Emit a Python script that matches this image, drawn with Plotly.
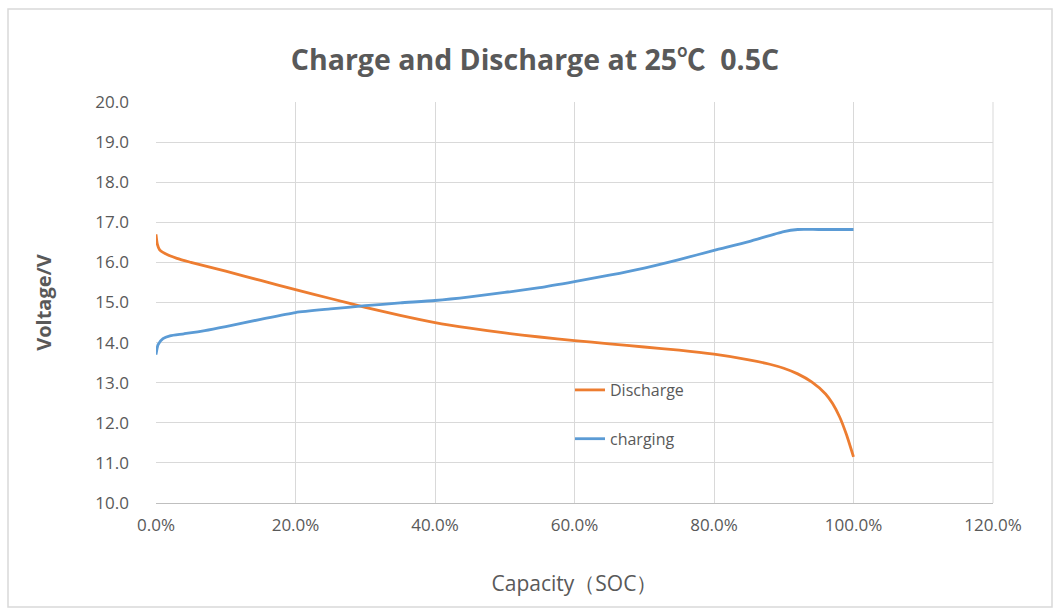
import plotly.graph_objects as go

# Capacity (SOC) as fraction
discharge_soc = [0, 0.002, 0.005, 0.01, 0.03, 0.05, 0.10, 0.15, 0.20, 0.25, 0.30, 0.35, 0.40, 0.45,
                 0.50, 0.55, 0.60, 0.65, 0.70, 0.75, 0.80, 0.85, 0.88, 0.90, 0.92, 0.94, 0.96,
                 0.97, 0.98, 0.99, 1.00]
discharge_v = [16.7, 16.45, 16.32, 16.25, 16.1, 16.0, 15.78, 15.55, 15.32, 15.1, 14.88, 14.68, 14.5,
               14.36, 14.24, 14.14, 14.05, 13.97, 13.89, 13.81, 13.71, 13.57, 13.46, 13.36, 13.22,
               13.02, 12.72, 12.48, 12.15, 11.7, 11.15]

charging_soc = [0, 0.003, 0.01, 0.02, 0.04, 0.07, 0.10, 0.15, 0.20, 0.25, 0.30, 0.35, 0.40, 0.45,
                0.50, 0.55, 0.60, 0.65, 0.70, 0.75, 0.80, 0.85, 0.90, 0.92, 0.95, 1.00]
charging_v = [13.7, 13.95, 14.1, 14.17, 14.22, 14.3, 14.4, 14.58, 14.75, 14.84, 14.92, 14.99, 15.05,
              15.14, 15.25, 15.37, 15.52, 15.68, 15.86, 16.07, 16.3, 16.52, 16.77, 16.82, 16.82, 16.82]

x_ticks = [0, 0.2, 0.4, 0.6, 0.8, 1.0, 1.2]
y_ticks = [10, 11, 12, 13, 14, 15, 16, 17, 18, 19, 20]

ORANGE = "#ED7D31"
BLUE = "#5B9BD5"
TXT = "#595959"
GRID = "#D9D9D9"
FONT = "Open Sans"

fig = go.Figure()
fig.add_trace(go.Scatter(x=discharge_soc, y=discharge_v, mode="lines", name="Discharge",
                         line=dict(color=ORANGE, width=2.8, shape="spline", smoothing=0.6),
                         legendgroup="d"))
fig.add_trace(go.Scatter(x=charging_soc, y=charging_v, mode="lines", name="charging",
                         line=dict(color=BLUE, width=2.8, shape="spline", smoothing=0.6),
                         legendgroup="c"))

L, R, T, B = 156, 60, 102, 109
PW = 1053 - L - R
PH = 612 - T - B

def px_x(p):
    return (p - L) / PW

def px_y(p):
    return (612 - B - p) / PH

fig.update_layout(
    width=1053, height=612,
    margin=dict(l=L, r=R, t=T, b=B),
    paper_bgcolor="white", plot_bgcolor="white",
    title=dict(text="<b>Charge and Discharge at 25℃  0.5C</b>",
               x=535 / 1053, xanchor="center",
               y=1 - 60 / 612, yanchor="middle",
               font=dict(family="Open Sans, Noto Sans CJK SC", size=28.5, color=TXT)),
    xaxis=dict(range=[0, 1.2], tickvals=x_ticks, tickformat=".1%", showgrid=True,
               gridcolor=GRID, gridwidth=1, zeroline=False, showline=True, linecolor="#BFBFBF",
               linewidth=1, ticks="", tickfont=dict(family=FONT, size=17, color=TXT),
               ticklabelstandoff=7,
               title=dict(text="Capacity（SOC）", font=dict(family=FONT, size=21, color=TXT), standoff=40)),
    yaxis=dict(range=[10, 20], tickvals=y_ticks, tickformat=".1f", showgrid=True,
               gridcolor=GRID, gridwidth=1, zeroline=False, showline=False, ticks="",
               tickfont=dict(family=FONT, size=17, color=TXT),
               ticklabelstandoff=26,
               title=dict(text="<b>Voltage/V</b>", font=dict(family=FONT, size=20, color=TXT), standoff=38)),
    showlegend=True,
    legend=dict(x=px_x(570), y=px_y(373), xanchor="left", yanchor="top", bgcolor="rgba(0,0,0,0)",
                font=dict(family=FONT, size=16, color=TXT),
                tracegroupgap=25, traceorder="grouped"),
    shapes=[
        dict(type="rect", xref="paper", yref="paper", x0=px_x(8), x1=px_x(1052), y0=px_y(607), y1=px_y(9),
             line=dict(color="#D9D9D9", width=1.5), fillcolor="rgba(0,0,0,0)", layer="below"),
        dict(type="line", xref="paper", yref="paper", x0=1, x1=1, y0=0, y1=1,
             line=dict(color=GRID, width=1)),
    ],
)

fig.write_html("out.html", config={"displayModeBar": False},
               post_script="document.body.style.margin='0px';")
